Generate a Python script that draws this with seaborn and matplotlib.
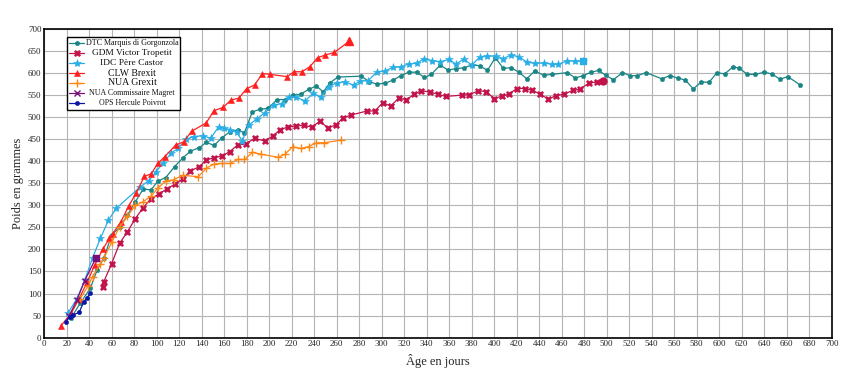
import matplotlib
matplotlib.use("Agg")
import matplotlib.pyplot as plt
from matplotlib.patches import Rectangle
import seaborn as sns
import pandas as pd

# ---------------- data ----------------
dtc_days = [24, 32, 41, 47, 53, 60, 67, 74, 81, 88, 95, 101, 108, 116, 123, 130, 138, 144, 151, 158,
            165, 172, 178, 185, 192, 199, 207, 214, 221, 228, 235, 242, 248, 254, 261, 282, 289, 296,
            303, 310, 317, 324, 331, 338, 344, 352, 359, 366, 373, 380, 387, 394, 401, 408, 415, 422,
            429, 436, 444, 451, 465, 472, 479, 486, 493, 499, 506, 514, 521, 527, 535, 549, 556, 563,
            570, 577, 584, 591, 598, 605, 612, 618, 625, 632, 640, 647, 654, 661, 672]
dtc_w = [45, 78, 112, 153, 180, 233, 250, 278, 308, 337, 335, 355, 363, 388, 407, 423, 431, 443, 436, 453,
         467, 471, 465, 512, 518, 520, 540, 540, 550, 552, 563, 571, 557, 578, 591, 593, 580, 575,
         577, 584, 594, 602, 602, 590, 597, 618, 607, 610, 612, 618, 617, 606, 635, 611, 612, 602,
         587, 605, 595, 597, 601, 589, 594, 602, 606, 595, 585, 601, 594, 594, 601, 587, 594, 589,
         584, 564, 580, 579, 601, 598, 614, 611, 597, 597, 602, 598, 586, 592, 573]

gdm_days = [52, 53, 60, 67, 74, 81, 88, 95, 102, 109, 116, 123, 130, 138, 144, 151, 158, 165, 172, 179,
            187, 196, 203, 210, 217, 224, 231, 238, 245, 252, 259, 266, 273, 287, 294, 301, 308, 315,
            322, 329, 335, 343, 350, 357, 371, 378, 386, 393, 400, 407, 413, 420, 427, 434, 441, 448,
            455, 462, 470, 476, 484, 491, 497]
gdm_w = [114, 127, 168, 214, 240, 270, 295, 315, 326, 337, 348, 360, 378, 388, 403, 408, 412, 422, 437, 439,
         452, 446, 457, 472, 478, 480, 482, 477, 491, 476, 482, 499, 505, 514, 514, 533, 525, 543,
         540, 552, 560, 557, 552, 547, 550, 551, 560, 558, 542, 548, 552, 565, 565, 561, 552, 541,
         549, 552, 561, 563, 577, 580, 582]

idc_days = [21, 29, 36, 43, 50, 57, 64, 85, 93, 99, 106, 113, 119, 126, 133, 141, 148, 155, 160, 165,
            171, 176, 182, 189, 196, 204, 211, 218, 224, 232, 239, 246, 253, 260, 267, 275, 281, 288,
            296, 303, 310, 317, 324, 331, 338, 345, 352, 360, 366, 373, 380, 387, 394, 402, 408, 415,
            422, 429, 436, 444, 451, 457, 465, 472, 479]
idc_w = [55, 88, 130, 181, 225, 266, 293, 341, 356, 375, 397, 419, 429, 450, 456, 458, 452, 478, 475, 472,
         467, 446, 482, 496, 510, 527, 531, 546, 545, 537, 554, 546, 569, 578, 580, 573, 582, 583,
         603, 605, 613, 614, 621, 622, 633, 628, 626, 631, 620, 632, 618, 636, 639, 638, 633, 641,
         637, 625, 622, 623, 620, 620, 628, 627, 627]

clw_days = [15, 24, 31, 38, 45, 52, 58, 61, 68, 75, 82, 89, 95, 101, 107, 117, 124, 131, 144, 151,
            159, 166, 173, 180, 187, 194, 201, 216, 222, 229, 236, 243, 250, 258, 271]
clw_w = [27, 55, 88, 125, 165, 200, 225, 236, 262, 298, 329, 366, 371, 395, 410, 437, 444, 468, 487, 515,
         522, 539, 543, 565, 573, 599, 597, 592, 603, 603, 614, 635, 641, 647, 672]

nua_days = [32, 39, 43, 50, 53, 60, 67, 74, 81, 88, 95, 101, 108, 115, 123, 137, 144, 151, 158, 165,
            172, 178, 185, 193, 208, 214, 221, 228, 235, 242, 249, 264]
nua_w = [88, 117, 138, 168, 180, 216, 251, 275, 300, 308, 321, 339, 355, 358, 368, 365, 384, 394, 395, 395,
         404, 404, 420, 416, 409, 416, 433, 429, 433, 442, 442, 448]

mag_days = [22, 29, 36, 46]
mag_w = [48, 85, 129, 181]

ops_days = [19, 23, 26, 31, 35, 38, 41]
ops_w = [36, 47, 52, 57, 80, 90, 101]

labels = ["DTC Marquis di Gorgonzola", "GDM Victor Tropetit", "IDC Père Castor", "CLW Brexit",
          "NUA Grexit", "NUA Commissaire Magret", "OPS Hercule Poivrot"]

x_ticks = list(range(0, 701, 20))
y_ticks = list(range(0, 701, 50))

# ---------------- styling ----------------
series = [
    (dtc_days, dtc_w, "#1b8585", "p", 3.5, None),
    (gdm_days, gdm_w, "#c2124a", "X", 4.5, "o"),
    (idc_days, idc_w, "#29aee6", "*", 6.0, "s"),
    (clw_days, clw_w, "#ff1f1f", "^", 3.8, "^"),
    (nua_days, nua_w, "#ff8614", "+", 6.0, None),
    (mag_days, mag_w, "#7a0f7a", "x", 4.0, "s"),
    (ops_days, ops_w, "#0a14a5", "o", 3.0, None),
]
# legend label widths (pixels) as seen in the reference
label_px = [93, 80, 63, 48, 49, 85, 68]

sns.set_style("white")
plt.rcParams["font.family"] = ["Liberation Serif", "DejaVu Serif"]

W, H = 861, 385
fig = plt.figure(figsize=(8.61, 3.85), dpi=100)
ax = fig.add_axes([44.2 / W, 1 - 337.6 / H, 787.5 / W, 308.6 / H])

for (dx, wy, col, mk, ms, endmk), lab in zip(series, labels):
    df = pd.DataFrame({"day": dx, "w": wy})
    sns.lineplot(data=df, x="day", y="w", ax=ax, color=col, marker=mk, markersize=ms,
                 markeredgecolor=col, markeredgewidth=1.0 if mk in "+x" else 0.4,
                 linewidth=0.9, sort=False, estimator=None, legend=False)
    if endmk is not None:
        ax.plot(dx[-1:], wy[-1:], marker=endmk, color=col, markersize=5 if endmk != "^" else 5.5,
                linestyle="none", zorder=5)

ax.set_xlim(0, 700)
ax.set_ylim(0, 700)
ax.set_xticks(x_ticks)
ax.set_yticks(y_ticks)
ax.grid(True, color="#b4b4b4", linewidth=0.8)
ax.set_axisbelow(True)
for s in ax.spines.values():
    s.set_color("black")
    s.set_linewidth(1.2)
ax.tick_params(axis="both", labelsize=6.5, length=3, direction="in", color="#888888", pad=2)
ax.set_xlabel("Âge en jours", fontsize=9, labelpad=4)
ax.set_ylabel("Poids en grammes", fontsize=9, labelpad=3)

# ---------------- legend drawn by hand (centred labels, boxed) ----------------
def to_ax(px, py):
    return (px - 44.2) / 787.5, (337.6 - py) / 308.6

bx0, by0 = to_ax(67, 110)
bx1, by1 = to_ax(180, 37)
ax.add_patch(Rectangle((bx0, by0), bx1 - bx0, by1 - by0, transform=ax.transAxes,
                       facecolor="white", edgecolor="black", linewidth=1.0, zorder=10, clip_on=False))
renderer = fig.canvas.get_renderer()
for i, ((dx, wy, col, mk, ms, endmk), lab) in enumerate(zip(series, labels)):
    py = 43.3 + 9.9 * i
    hx0, hy = to_ax(69, py)
    hx1, _ = to_ax(84, py)
    ax.plot([hx0, hx1], [hy, hy], color=col, linewidth=0.9, transform=ax.transAxes,
            zorder=11, clip_on=False)
    ax.plot([(hx0 + hx1) / 2], [hy], color=col, marker=mk, markersize=ms,
            markeredgecolor=col, markeredgewidth=1.0 if mk in "+x" else 0.4,
            transform=ax.transAxes, zorder=12, clip_on=False, linestyle="none")
    tx, ty = to_ax(132, py)
    t = ax.text(tx, ty, lab, transform=ax.transAxes, ha="center", va="center",
                fontsize=7, zorder=12, color="#111111")
    w = t.get_window_extent(renderer=renderer).width
    t.set_fontsize(min(8.0, 7 * label_px[i] / w))

fig.savefig("out.png", dpi=100)
